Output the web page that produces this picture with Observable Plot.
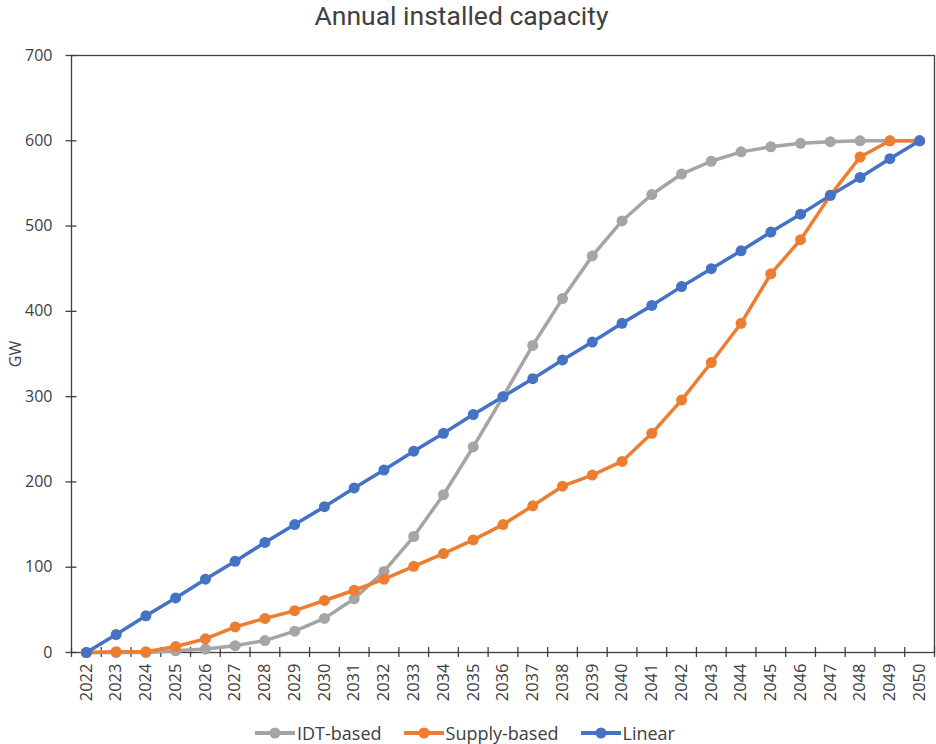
<!DOCTYPE html>
<html><head><meta charset="utf-8">
<script src="https://cdn.jsdelivr.net/npm/d3@7"></script>
<script src="https://cdn.jsdelivr.net/npm/@observablehq/plot@0.6"></script>
<style>
body{margin:0;background:#fff;font-family:"Open Sans",sans-serif;}
#wrap{width:936px;height:744px;position:relative;overflow:hidden;}
#title{position:absolute;left:0;top:0;width:923px;text-align:center;font-family:Roboto,sans-serif;font-size:26.5px;line-height:normal;color:#404040;}
#chart{position:absolute;left:0;top:30px;}
#legend{position:absolute;left:0;top:722px;width:930px;height:22px;display:flex;justify-content:center;align-items:center;font-size:18px;line-height:22px;color:#404040;}
.item{display:flex;align-items:center;margin:0 11px;}
.item svg{margin-right:2px;}
</style></head>
<body>
<div id="wrap">
<div id="title">Annual installed capacity</div>
<div id="chart"></div>
<div id="legend"></div>
</div>
<script>
const years = [2022,2023,2024,2025,2026,2027,2028,2029,2030,2031,2032,2033,2034,2035,2036,2037,2038,2039,2040,2041,2042,2043,2044,2045,2046,2047,2048,2049,2050];
const idtBased = [0,0,0,2,4,8,14,25,40,63,95,136,185,241,300,360,415,465,506,537,561,576,587,593,597,599,600,600,600];
const supplyBased = [0,1,1,7,16,30,40,49,61,73,86,101,116,132,150,172,195,208,224,257,296,340,386,444,484,536,581,600,600];
const linear = [0,21,43,64,86,107,129,150,171,193,214,236,257,279,300,321,343,364,386,407,429,450,471,493,514,536,557,579,600];
const yTicks = [0,100,200,300,400,500,600,700];
const seriesNames = ["IDT-based","Supply-based","Linear"];
const seriesColors = ["#A5A5A5","#ED7D31","#4472C4"];
const seriesValues = [idtBased, supplyBased, linear];

const boundaries = [years[0]-0.5, ...years.map(y => y + 0.5)];
const tables = seriesValues.map(vals => years.map((y,i) => ({year:y, value:vals[i]})));

const ink = "#404040";
const marks = [
  Plot.axisY(yTicks, {tickSize:0, tickPadding:19, fontSize:16, fill:ink, label:"GW", labelAnchor:"center", labelArrow:"none", labelOffset:62}),
  Plot.axisY(yTicks, {tickSize:11, dx:5.5, tickFormat:() => "", stroke:ink, strokeWidth:1.3, label:null}),
  Plot.axisX(boundaries, {tickSize:10, dy:-5, tickFormat:() => "", stroke:ink, strokeWidth:1.3, label:null}),
  Plot.axisX(years, {tickSize:0, tickPadding:11, tickRotate:-90, tickFormat:d => String(d), fontSize:16.5, fill:ink, label:null}),
  Plot.frame({stroke:ink, strokeWidth:1.3})
];
tables.forEach((t,k) => {
  marks.push(Plot.line(t, {x:"year", y:"value", stroke:seriesColors[k], strokeWidth:3.5}));
  marks.push(Plot.dot(t, {x:"year", y:"value", r:5.5, fill:seriesColors[k], stroke:null}));
});

const chart = Plot.plot({
  width:936, height:690,
  marginTop:25, marginBottom:68, marginLeft:71, marginRight:2,
  style:{fontFamily:'"Open Sans", sans-serif', fontSize:"16px", color:ink, background:"#fff"},
  x:{type:"linear", domain:[years[0]-0.5, years[years.length-1]+0.5]},
  y:{domain:[0,700]},
  marks
});
document.getElementById("chart").appendChild(chart);

const legend = document.getElementById("legend");
seriesNames.forEach((name,k) => {
  const c = seriesColors[k];
  const it = document.createElement("div");
  it.className = "item";
  it.innerHTML = `<svg width="40" height="14"><line x1="0" y1="7" x2="40" y2="7" stroke="${c}" stroke-width="4"/><circle cx="20" cy="7" r="5.5" fill="${c}"/></svg><span>${name}</span>`;
  legend.appendChild(it);
});
</script>
</body></html>
